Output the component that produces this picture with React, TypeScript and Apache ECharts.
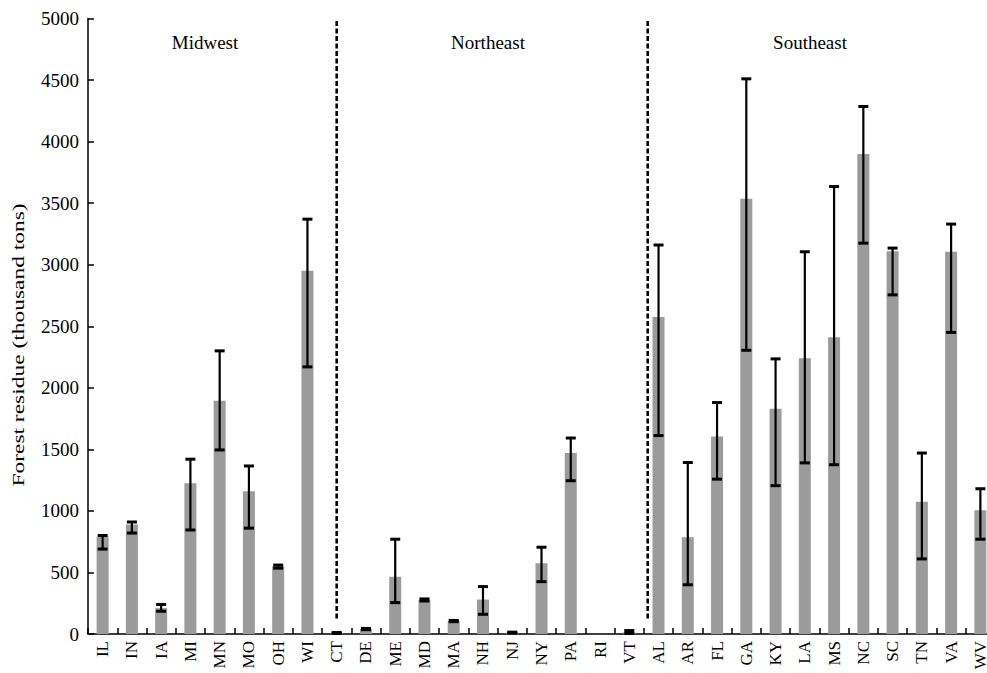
import React, { useEffect, useRef } from "react";
import * as echarts from "echarts";

const states = ["IL","IN","IA","MI","MN","MO","OH","WI","CT","DE","ME","MD","MA","NH","NJ","NY","PA","RI","VT","AL","AR","FL","GA","KY","LA","MS","NC","SC","TN","VA","WV"];
const residue = [790, 890, 210, 1225, 1895, 1160, 550, 2950, 10, 40, 465, 275, 105, 280, 12, 575, 1470, 0, 15, 2575, 785, 1605, 3535, 1830, 2240, 2410, 3900, 3110, 1075, 3105, 1005];
const errLow = [690, 820, 185, 845, 1495, 860, 535, 2170, 5, 35, 255, 268, 100, 160, 8, 425, 1245, null, 5, 1612, 400, 1258, 2305, 1205, 1390, 1375, 3175, 2755, 610, 2450, 770];
const errHigh = [800, 910, 240, 1420, 2300, 1365, 560, 3370, 12, 45, 770, 285, 110, 385, 15, 705, 1592, null, 28, 3160, 1393, 1880, 4510, 2235, 3105, 3635, 4285, 3135, 1470, 3330, 1180];
const regions = ["Midwest", "Northeast", "Southeast"];
const yTicks = [0, 500, 1000, 1500, 2000, 2500, 3000, 3500, 4000, 4500, 5000];

const FONT = '"Liberation Serif", "Times New Roman", serif';

export default function App() {
  const ref = useRef<HTMLDivElement>(null);
  useEffect(() => {
    if (!ref.current) return;
    const chart = echarts.init(ref.current, null, { renderer: "svg" });
    const errData = states
      .map((s, i) => [i, errLow[i], errHigh[i]])
      .filter((d) => d[1] !== null && d[2] !== null);
    chart.setOption({
      animation: false,
      backgroundColor: "#ffffff",
      grid: { left: 88, right: 0, top: 18.5, bottom: 39, containLabel: false },
      xAxis: {
        type: "category",
        data: states,
        boundaryGap: true,
        axisLine: { lineStyle: { color: "#000", width: 1.5 } },
        axisTick: { show: true, inside: true, length: 6, alignWithLabel: false, lineStyle: { color: "#000", width: 1.5 } },
        axisLabel: { rotate: 90, fontFamily: FONT, fontSize: 17, color: "#000", margin: 7, interval: 0 },
        splitLine: { show: false },
      },
      yAxis: {
        type: "value",
        min: yTicks[0],
        max: yTicks[yTicks.length - 1],
        interval: 500,
        axisLine: { show: true, lineStyle: { color: "#000", width: 1.5 } },
        axisTick: { show: true, inside: true, length: 6, lineStyle: { color: "#000", width: 1.5 } },
        axisLabel: { fontFamily: FONT, fontSize: 19, color: "#000", margin: 9, formatter: (v: number) => String(v) },
        splitLine: { show: false },
      },
      series: [
        {
          type: "bar",
          data: residue,
          barWidth: 12,
          itemStyle: { color: "#9b9b9b" },
          z: 2,
        },
        {
          type: "custom",
          data: errData,
          z: 3,
          renderItem: (params: any, api: any) => {
            const x = api.value(0);
            const lo = api.coord([x, api.value(1)]);
            const hi = api.coord([x, api.value(2)]);
            const hw = 5;
            const style = { stroke: "#000", lineWidth: 2.2 };
            const capStyle = { stroke: "#000", lineWidth: 3 };
            return {
              type: "group",
              children: [
                { type: "line", shape: { x1: lo[0], y1: lo[1], x2: hi[0], y2: hi[1] }, style },
                { type: "line", shape: { x1: lo[0] - hw, y1: lo[1], x2: lo[0] + hw, y2: lo[1] }, style: capStyle },
                { type: "line", shape: { x1: hi[0] - hw, y1: hi[1], x2: hi[0] + hw, y2: hi[1] }, style: capStyle },
              ],
            };
          },
        },
      ],
    });

    const px = (i: number) => chart.convertToPixel({ xAxisIndex: 0 }, i) as number;
    const yTop = chart.convertToPixel({ yAxisIndex: 0 }, 4980) as number;
    const yBot = chart.convertToPixel({ yAxisIndex: 0 }, 110) as number;
    const x1 = px(8);
    const x2 = px(18) + 0.63 * (px(19) - px(18));
    const dash = { stroke: "#000", lineWidth: 2.6, lineDash: [5, 2.5] };
    chart.setOption({
      graphic: [
        { type: "line", shape: { x1: x1, y1: yTop, x2: x1, y2: yBot }, style: dash, z: 10 },
        { type: "line", shape: { x1: x2, y1: yTop, x2: x2, y2: yBot }, style: dash, z: 10 },
        { type: "text", x: 205, y: 42, style: { text: regions[0], font: `19px ${FONT}`, fill: "#000", textAlign: "center", textVerticalAlign: "middle" } },
        { type: "text", x: 488, y: 42, style: { text: regions[1], font: `19px ${FONT}`, fill: "#000", textAlign: "center", textVerticalAlign: "middle" } },
        { type: "text", x: 810, y: 42, style: { text: regions[2], font: `19px ${FONT}`, fill: "#000", textAlign: "center", textVerticalAlign: "middle" } },
        {
          type: "text",
          x: 18,
          y: 345,
          rotation: Math.PI / 2,
          scaleX: 1.38,
          style: { text: "Forest residue (thousand tons)", font: `17px ${FONT}`, fill: "#000", textAlign: "center", textVerticalAlign: "middle" },
        },
      ],
    });
    return () => chart.dispose();
  }, []);
  return <div ref={ref} style={{ position: "fixed", left: 0, top: 0, width: 995, height: 673, background: "#fff" }} />;
}
